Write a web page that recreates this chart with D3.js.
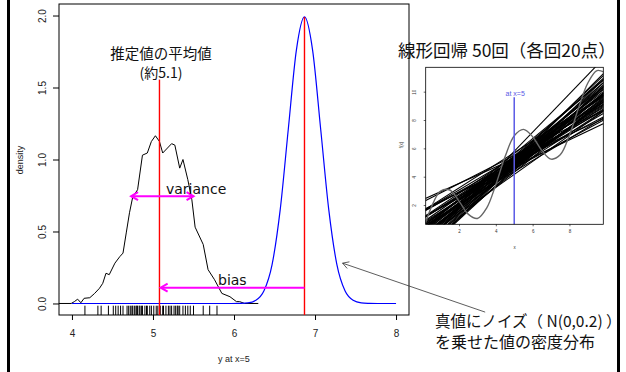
<!DOCTYPE html>
<html>
<head>
<meta charset="utf-8">
<script src="https://cdn.jsdelivr.net/npm/d3@7"></script>
<style>
  body { margin: 0; background: #fff; }
  svg { display: block; }
</style>
</head>
<body>
<div id="chart"></div>
<script>
const width = 626;
const height = 372;

// y at x=5 from each of the 50 fits (rug)
const estimates = [
  4.16, 4.32, 4.36, 4.45, 4.51, 4.54, 4.57, 4.60, 4.63, 4.68,
  4.70, 4.72, 4.74, 4.75, 4.77, 4.79, 4.80, 4.81, 4.83, 4.84,
  4.86, 4.87, 4.90, 4.92, 4.93, 4.96, 4.98, 5.01, 5.04, 5.06,
  5.09, 5.12, 5.13, 5.16, 5.19, 5.21, 5.23, 5.26, 5.28, 5.30,
  5.31, 5.33, 5.37, 5.40, 5.43, 5.46, 5.50, 5.62, 5.70, 5.79
];
const estimateMean = 5.08;
const trueValue = 6.87;

// density of the estimates (black)
const densX = [3.80, 3.99, 4.03, 4.07, 4.11, 4.15, 4.22, 4.28, 4.34, 4.38,
  4.42, 4.46, 4.53, 4.59, 4.63, 4.67, 4.71, 4.75, 4.81, 4.87,
  4.93, 4.98, 5.03, 5.08, 5.12, 5.23, 5.27, 5.33, 5.37, 5.43,
  5.48, 5.52, 5.62, 5.68, 5.76, 5.85, 5.95, 6.03, 6.07, 6.13, 6.30];
const densY = [0, 0, 0.013, 0.03, 0.005, 0.036, 0.04, 0.07, 0.106, 0.14,
  0.21, 0.20, 0.28, 0.325, 0.35, 0.49, 0.63, 0.74, 0.79, 1.03,
  1.045, 1.125, 1.165, 1.125, 1.045, 1.11, 1.10, 0.94, 1.0, 0.86,
  0.72, 0.53, 0.41, 0.235, 0.165, 0.07, 0.047, 0.013, 0.013, 0, 0];

// density of true value + noise (blue)
const noiseX = [4.0, 5.97, 6.07, 6.17, 6.27, 6.37, 6.47, 6.57, 6.67, 6.77, 6.87,
  6.97, 7.07, 7.17, 7.27, 7.37, 7.47, 7.57, 7.67, 7.77, 8.0];
const noiseY = [0, 0, 0.001, 0.004, 0.022, 0.088, 0.27, 0.65, 1.21, 1.76, 1.99,
  1.76, 1.21, 0.65, 0.27, 0.088, 0.022, 0.004, 0.001, 0, 0];

const xTicks = [4, 5, 6, 7, 8];
const yTicks = [0, 0.5, 1, 1.5, 2];

// arrows: variance (both ends), bias (left end)
const varianceArrow = { x0: 4.73, x1: 5.50, y: 0.745 };
const biasArrow = { x0: trueValue, x1: 5.095, y: 0.11 };
const meanLineTop = 1.555;

// annotation pointer to the blue curve
const pointerFrom = [9.1, -0.06];
const pointerTo = [7.34, 0.28];

// inset: slope of each fit (paired with estimates), true function readings
const fitSlopes = [
  0.92, 1.05, 0.78, 1.12, 0.85, 0.98, 1.20, 0.70, 0.95, 1.08,
  0.88, 1.15, 0.62, 1.00, 0.90, 1.25, 0.82, 1.03, 0.75, 1.10,
  0.96, 0.86, 1.18, 0.68, 1.01, 0.93, 1.30, 0.80, 1.06, 0.89,
  0.99, 1.14, 0.73, 0.94, 1.09, 0.84, 1.22, 0.58, 1.04, 0.91,
  0.97, 1.16, 0.77, 1.02, 0.87, 1.11, 0.66, 1.07, 0.83, 1.35
];
const trueX = [0, 0.5, 1, 1.5, 2, 2.5, 3, 3.5, 4, 4.5, 5, 5.5, 6, 6.5, 7, 7.5, 8, 8.5, 9, 9.5, 10];
const trueY = [0, 1.86, 2.99, 3.06, 2.28, 1.36, 1.05, 1.78, 3.44, 5.40, 6.88, 7.34,
  6.82, 5.85, 5.24, 5.54, 6.93, 8.87, 10.61, 11.49, 11.3];
const insetXTicks = [2, 4, 6, 8];
const insetYTicks = [2, 4, 6, 8, 10];

const jpFont = '"Noto Sans CJK JP", sans-serif';
const axFont = '"Liberation Sans", Arial, sans-serif';

const svg = d3.select('#chart').append('svg')
  .attr('width', width).attr('height', height)
  .attr('viewBox', `0 0 ${width} ${height}`);
svg.append('rect').attr('width', width).attr('height', height).attr('fill', '#fff');

const x = d3.scaleLinear().domain([3.84, 8.16]).range([59, 409]);
const y = d3.scaleLinear().domain([-0.08, 2.08]).range([315, 4]);

const defs = svg.append('defs');
defs.append('clipPath').attr('id', 'plotclip').append('rect')
  .attr('x', 59).attr('y', 4).attr('width', 350).attr('height', 311);

// plot box
svg.append('rect').attr('x', 59).attr('y', 4).attr('width', 350).attr('height', 311)
  .attr('fill', 'none').attr('stroke', '#000').attr('stroke-width', 1);

// x axis (R style: line only spans the ticks)
const xAxisScale = d3.scaleLinear().domain([4, 8]).range([x(4), x(8)]);
const xAxis = svg.append('g').attr('transform', 'translate(0,315)')
  .call(d3.axisBottom(xAxisScale).tickValues(xTicks).tickFormat(d3.format('d'))
    .tickSize(5).tickSizeOuter(0).tickPadding(10));
xAxis.select('.domain').remove();
xAxis.selectAll('text').style('font-family', axFont).style('font-size', '10px').attr('fill', '#222');

// y axis
const yAxis = svg.append('g').attr('transform', 'translate(59,0)')
  .call(d3.axisLeft(y).tickValues(yTicks).tickSize(6).tickSizeOuter(0));
yAxis.select('.domain').remove();
yAxis.selectAll('text').remove();
yAxis.selectAll('.tick').append('text')
  .attr('transform', 'translate(-13,0) rotate(-90)')
  .attr('text-anchor', 'middle')
  .attr('fill', '#222')
  .style('font-family', axFont).style('font-size', '10px')
  .text(d3.format('.1f'));

svg.append('text').attr('transform', 'translate(23,160) rotate(-90)')
  .attr('text-anchor', 'middle').style('font-family', axFont).style('font-size', '9px')
  .attr('fill', '#222').text('density');
svg.append('text').attr('x', 234).attr('y', 362)
  .attr('text-anchor', 'middle').style('font-family', axFont).style('font-size', '9px')
  .attr('fill', '#222').text('y at x=5');

const plot = svg.append('g').attr('clip-path', 'url(#plotclip)');

// density of estimates
plot.append('path')
  .datum(d3.zip(densX, densY))
  .attr('fill', 'none').attr('stroke', '#000').attr('stroke-width', 1)
  .attr('d', d3.line().x((d) => x(d[0])).y((d) => y(d[1])));

// density of true value + noise
plot.append('path')
  .datum(d3.zip(noiseX, noiseY))
  .attr('fill', 'none').attr('stroke', '#0000ff').attr('stroke-width', 1.2)
  .attr('d', d3.line().curve(d3.curveMonotoneX).x((d) => x(d[0])).y((d) => y(d[1])));

// rug
plot.selectAll('.rug').data(estimates).enter().append('line')
  .attr('class', 'rug')
  .attr('x1', (d) => x(d)).attr('x2', (d) => x(d))
  .attr('y1', 315).attr('y2', 305.7)
  .attr('stroke', '#000').attr('stroke-width', 1);

// red lines
plot.append('line').attr('x1', x(estimateMean)).attr('x2', x(estimateMean))
  .attr('y1', y(meanLineTop)).attr('y2', y(-0.08))
  .attr('stroke', '#ff0000').attr('stroke-width', 1.4);
plot.append('line').attr('x1', x(trueValue)).attr('x2', x(trueValue))
  .attr('y1', y(1.99)).attr('y2', y(-0.08))
  .attr('stroke', '#ff0000').attr('stroke-width', 1.4);

const arrowHead = (g, tx, ty, fx, fy, len, color, w) => {
  const a = Math.atan2(ty - fy, tx - fx);
  const p = d3.path();
  p.moveTo(tx - len * Math.cos(a - Math.PI / 6), ty - len * Math.sin(a - Math.PI / 6));
  p.lineTo(tx, ty);
  p.lineTo(tx - len * Math.cos(a + Math.PI / 6), ty - len * Math.sin(a + Math.PI / 6));
  g.append('path').attr('d', p.toString()).attr('fill', 'none')
    .attr('stroke', color).attr('stroke-width', w);
};

// variance arrow
const magenta = '#ff00ff';
const va = svg.append('g');
va.append('line').attr('x1', x(varianceArrow.x0)).attr('x2', x(varianceArrow.x1))
  .attr('y1', y(varianceArrow.y)).attr('y2', y(varianceArrow.y))
  .attr('stroke', magenta).attr('stroke-width', 2);
arrowHead(va, x(varianceArrow.x0), y(varianceArrow.y), x(varianceArrow.x1), y(varianceArrow.y), 8, magenta, 2);
arrowHead(va, x(varianceArrow.x1), y(varianceArrow.y), x(varianceArrow.x0), y(varianceArrow.y), 8, magenta, 2);

// bias arrow
const ba = svg.append('g');
ba.append('line').attr('x1', x(biasArrow.x0)).attr('x2', x(biasArrow.x1))
  .attr('y1', y(biasArrow.y)).attr('y2', y(biasArrow.y))
  .attr('stroke', magenta).attr('stroke-width', 2);
arrowHead(ba, x(biasArrow.x1), y(biasArrow.y), x(biasArrow.x0), y(biasArrow.y), 8, magenta, 2);

// labels in plot
svg.append('text').attr('x', 166).attr('y', 194)
  .style('font-family', '"DejaVu Sans", sans-serif').style('font-size', '14px')
  .attr('fill', '#111').text('variance');
svg.append('text').attr('x', 218).attr('y', 285)
  .style('font-family', '"DejaVu Sans", sans-serif').style('font-size', '14px')
  .attr('fill', '#111').text('bias');
svg.append('text').attr('x', 161).attr('y', 59).attr('text-anchor', 'middle')
  .style('font-family', jpFont).style('font-size', '14.5px').attr('fill', '#111')
  .text('推定値の平均値');
svg.append('text').attr('x', 161).attr('y', 78).attr('text-anchor', 'middle')
  .style('font-family', jpFont).style('font-size', '14px').attr('fill', '#111')
  .text('(約5.1)');

// pointer to the noise density
const pg = svg.append('g');
pg.append('line')
  .attr('x1', x(pointerFrom[0])).attr('y1', y(pointerFrom[1]))
  .attr('x2', x(pointerTo[0])).attr('y2', y(pointerTo[1]))
  .attr('stroke', '#333').attr('stroke-width', 0.8);
arrowHead(pg, x(pointerTo[0]), y(pointerTo[1]), x(pointerFrom[0]), y(pointerFrom[1]), 7, '#333', 0.8);

svg.append('text').attr('x', 435).attr('y', 327)
  .style('font-family', jpFont).style('font-size', '15.5px').attr('fill', '#111')
  .text('真値にノイズ（ N(0,0.2) ）');
svg.append('text').attr('x', 435).attr('y', 348)
  .style('font-family', jpFont).style('font-size', '16px').attr('fill', '#111')
  .text('を乗せた値の密度分布');

// ---- inset ----
const ix = d3.scaleLinear().domain([0.19, 9.84]).range([425.7, 603.3]);
const iy = d3.scaleLinear().domain([0.64, 11.72]).range([224.3, 67.3]);

defs.append('clipPath').attr('id', 'insetclip').append('rect')
  .attr('x', 425.7).attr('y', 67.3).attr('width', 177.6).attr('height', 157);

svg.append('text').attr('x', 398).attr('y', 57)
  .style('font-family', jpFont).style('font-size', '17.5px').attr('fill', '#111')
  .text('線形回帰 50回（各回20点）');

const inset = svg.append('g');
const ip = inset.append('g').attr('clip-path', 'url(#insetclip)');

ip.selectAll('.fit').data(d3.zip(estimates, fitSlopes)).enter().append('line')
  .attr('class', 'fit')
  .attr('x1', ix(0)).attr('x2', ix(10))
  .attr('y1', (d) => iy(d[0] + d[1] * (0 - 5)))
  .attr('y2', (d) => iy(d[0] + d[1] * (10 - 5)))
  .attr('stroke', '#000').attr('stroke-width', 1.1);

ip.append('path').datum(d3.zip(trueX, trueY))
  .attr('fill', 'none').attr('stroke', '#666').attr('stroke-width', 1.4)
  .attr('d', d3.line().curve(d3.curveCatmullRom).x((d) => ix(d[0])).y((d) => iy(d[1])));

inset.append('line').attr('x1', ix(5)).attr('x2', ix(5))
  .attr('y1', iy(9.6)).attr('y2', iy(0.64))
  .attr('stroke', '#5a5ae6').attr('stroke-width', 1.5);
inset.append('text').attr('x', ix(5) + 1).attr('y', iy(9.7)).attr('text-anchor', 'middle')
  .style('font-family', axFont).style('font-size', '7px').attr('fill', '#5a5ae6')
  .text('at x=5');

inset.append('rect').attr('x', 425.7).attr('y', 67.3).attr('width', 177.6).attr('height', 157)
  .attr('fill', 'none').attr('stroke', '#000').attr('stroke-width', 0.8);

const ixa = inset.append('g').attr('transform', 'translate(0,224.3)')
  .call(d3.axisBottom(ix).tickValues(insetXTicks).tickSize(2).tickSizeOuter(0).tickPadding(4));
ixa.select('.domain').remove();
ixa.selectAll('line').attr('stroke-width', 0.6);
ixa.selectAll('text').style('font-family', axFont).style('font-size', '4.5px').attr('fill', '#333');

const iya = inset.append('g').attr('transform', 'translate(425.7,0)')
  .call(d3.axisLeft(iy).tickValues(insetYTicks).tickSize(2).tickSizeOuter(0));
iya.select('.domain').remove();
iya.selectAll('line').attr('stroke-width', 0.6);
iya.selectAll('text').remove();
iya.selectAll('.tick').append('text')
  .attr('transform', 'translate(-10,0) rotate(-90)').attr('text-anchor', 'middle')
  .style('font-family', axFont).style('font-size', '4.5px').attr('fill', '#333')
  .text((d) => d);

inset.append('text').attr('transform', 'translate(403,145) rotate(-90)')
  .attr('text-anchor', 'middle').style('font-family', axFont).style('font-size', '4.5px')
  .attr('fill', '#333').text('f(x)');
inset.append('text').attr('x', (425.7 + 603.3) / 2).attr('y', 249)
  .attr('text-anchor', 'middle').style('font-family', axFont).style('font-size', '4.5px')
  .attr('fill', '#333').text('x');

// outer frame bars
svg.append('rect').attr('x', 7).attr('y', 0).attr('width', 3).attr('height', height).attr('fill', '#000');
svg.append('rect').attr('x', 617).attr('y', 0).attr('width', 3).attr('height', height).attr('fill', '#000');
</script>
</body>
</html>
